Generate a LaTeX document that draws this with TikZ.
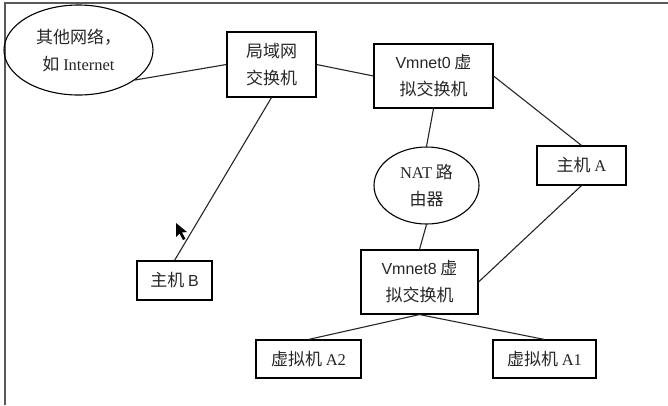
\documentclass[tikz,border=0pt]{standalone}
\usepackage{fontspec}
\setmainfont{Liberation Serif}
\newfontfamily\cjk{Noto Sans CJK SC}
\newfontfamily\arialf{Liberation Sans}
\usetikzlibrary{shapes.geometric}
\begin{document}
\begin{tikzpicture}[x=1pt,y=-1pt,
  every node/.style={font=\cjk\fontsize{17}{27}\selectfont, text=black!85, align=center, inner sep=0pt},
  boxn/.style={draw=black, line width=1.1pt, rectangle},
  elln/.style={draw=black, line width=1.1pt, ellipse},
  link/.style={draw=black!85, line width=1.1pt}]
\useasboundingbox (0,0) rectangle (668,405);
% frame
\draw[black!65, line width=1.6pt] (5,405) -- (5,3) -- (668,3);
% nodes
\node[elln, minimum width=149pt, minimum height=90pt] (oth) at (78.5,50) {其他网络，\\如 {\rmfamily\fontsize{16.5}{27}\selectfont Internet}};
\node[boxn, minimum width=89pt, minimum height=65pt] (lan) at (271.5,64.5) {局域网\\交换机};
\node[boxn, minimum width=119pt, minimum height=64pt] (vm0) at (433.5,76) {{\arialf\fontsize{16}{27}\selectfont Vmnet0} 虚\\拟交换机};
\node[boxn, minimum width=89pt, minimum height=39pt] (ha) at (581.5,165.5) {主机 {\rmfamily\fontsize{16.5}{27}\selectfont A}};
\node[elln, minimum width=105pt, minimum height=77pt] (nat) at (426.5,185.5) {{\rmfamily\fontsize{16.5}{27}\selectfont NAT} 路\\由器};
\node[boxn, minimum width=75pt, minimum height=39pt] (hb) at (174.5,280.5) {主机 {\arialf\fontsize{16}{27}\selectfont B}};
\node[boxn, minimum width=117pt, minimum height=64pt] (vm8) at (419.5,282) {{\arialf\fontsize{16}{27}\selectfont Vmnet8} 虚\\拟交换机};
\node[boxn, minimum width=105pt, minimum height=38pt] (a2) at (308.5,359) {虚拟机 {\rmfamily\fontsize{16.5}{27}\selectfont A2}};
\node[boxn, minimum width=103pt, minimum height=38pt] (a1) at (544.5,359) {虚拟机 {\rmfamily\fontsize{16.5}{27}\selectfont A1}};
% connectors
\draw[link] (oth.-28) -- (lan.west);
\draw[link] (lan.east) -- (vm0.west);
\draw[link] (vm0.east) -- (ha.north);
\draw[link] (vm0.south) -- (nat.north);
\draw[link] (nat.south) -- (vm8.north);
\draw[link] (ha.south) -- (vm8.east);
\draw[link] (lan.south) -- (hb.north);
\draw[link] (vm8.south) -- (a2.north);
\draw[link] (vm8.south) -- (a1.north);
% mouse cursor
\fill[black] (176,223) -- (176,237) -- (179.5,233.5) -- (183,240) -- (185.5,238.8) -- (182,232.5) -- (187,232) -- cycle;
\end{tikzpicture}
\end{document}
